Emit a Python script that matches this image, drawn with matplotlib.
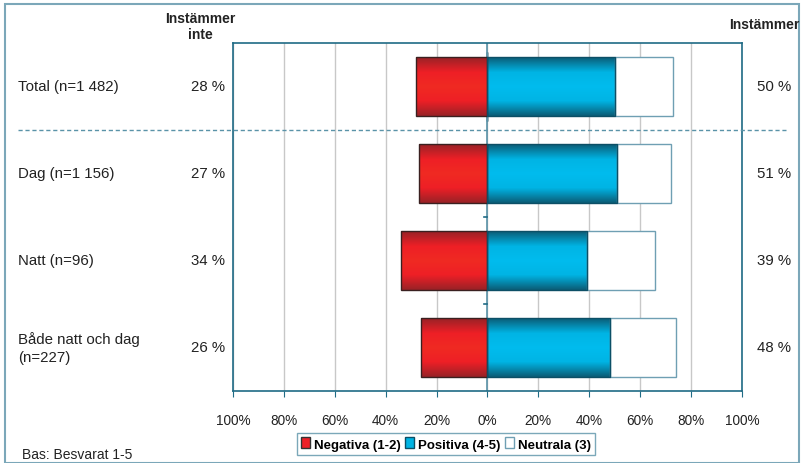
import numpy as np
import matplotlib.pyplot as plt
from matplotlib.colors import LinearSegmentedColormap
from matplotlib.patches import Rectangle

plt.rcParams['font.family'] = ['Liberation Sans', 'DejaVu Sans']

categories = ["Total (n=1 482)", "Dag (n=1 156)", "Natt (n=96)", "Både natt och dag\n(n=227)"]
negativa = [28, 27, 34, 26]
positiva = [50, 51, 39, 48]
neutrala = [23, 21, 27, 26]
left_labels = ["28 %", "27 %", "34 %", "26 %"]
right_labels = ["50 %", "51 %", "39 %", "48 %"]
ticks = [-100, -80, -60, -40, -20, 0, 20, 40, 60, 80, 100]

fig = plt.figure(figsize=(8.02, 4.64), dpi=100)
ax = fig.add_axes([0.2905, 0.1552, 0.6347, 0.75])

# figure border
fig.patches.append(Rectangle((0.006, 0.0), 0.99, 0.99, transform=fig.transFigure,
                             fill=False, edgecolor="#7ba7b9", linewidth=1.5))

y = np.arange(len(categories))
h = 0.67

red_cmap = LinearSegmentedColormap.from_list("r", ["#9a2226", "#ee1f26", "#f02a22", "#ee1f26", "#9a2226"])
blue_cmap = LinearSegmentedColormap.from_list("b", ["#0b5e78", "#00b4e4", "#00bcee", "#00b4e4", "#0b5e78"])
grad = np.linspace(0, 1, 64).reshape(-1, 1)

for i in range(len(categories)):
    n, p, u = negativa[i], positiva[i], neutrala[i]
    ax.imshow(grad, cmap=red_cmap, aspect="auto", extent=(-n, 0, y[i] + h / 2, y[i] - h / 2), zorder=3)
    ax.add_patch(Rectangle((-n, y[i] - h / 2), n, h, fill=False, edgecolor="#3a2020", lw=1, zorder=4))
    ax.imshow(grad, cmap=blue_cmap, aspect="auto", extent=(0, p, y[i] + h / 2, y[i] - h / 2), zorder=3)
    ax.add_patch(Rectangle((0, y[i] - h / 2), p, h, fill=False, edgecolor="#0c4f66", lw=1, zorder=4))
    ax.barh(y[i], u, left=p, height=h, color="white", edgecolor="#6f9fb3", lw=1, zorder=3)

# legend proxies
ax.barh([0], [0], color="#ee1f26", edgecolor="#333333", label="Negativa (1-2)")
ax.barh([0], [0], color="#00b4e4", edgecolor="#0c4f66", label="Positiva (4-5)")
ax.barh([0], [0], color="white", edgecolor="#6f9fb3", label="Neutrala (3)")

ax.set_xlim(-100, 100)
ax.set_ylim(len(categories) - 0.5, -0.5)
ax.set_xticks(ticks)
ax.set_xticklabels([f"{abs(t)}%" for t in ticks], fontsize=9.8, color="#222222")
ax.set_yticks([])
ax.tick_params(axis="x", length=4, color="#1f6b85", pad=12)
ax.grid(axis="x", color="#c8c8c8", lw=1, zorder=0)
ax.set_axisbelow(True)
for s in ax.spines.values():
    s.set_color("#1f6b85")
    s.set_linewidth(1.2)
ax.axvline(0, color="#5a93a8", lw=1.2, zorder=2)
for b in [1.5, 2.5]:
    ax.plot([-1.2, 0], [b, b], color="#1f6b85", lw=1.2, zorder=2, clip_on=False)

# dashed separator
fig.add_artist(plt.Line2D([0.022, 0.98], [1 - 131 / 464, 1 - 131 / 464], transform=fig.transFigure,
                          color="#5a93a8", lw=1, ls=(0, (3, 2))))

for i, cat in enumerate(categories):
    yy = ax.transData.transform((0, y[i]))[1] / fig.dpi / fig.get_figheight()
    fig.text(0.022, yy, cat, ha="left", va="center", fontsize=10.8, color="#222222", linespacing=1.3)
    fig.text(0.281, yy, left_labels[i], ha="right", va="center", fontsize=10.8, color="#222222")
    fig.text(0.944, yy, right_labels[i], ha="left", va="center", fontsize=10.8, color="#222222")

fig.text(0.25, 1 - 27 / 464, "Instämmer\ninte", ha="center", va="center", fontsize=10,
         fontweight="bold", color="#222222", linespacing=1.25)
fig.text(0.997, 1 - 25 / 464, "Instämmer", ha="right", va="center", fontsize=10,
         fontweight="bold", color="#222222")
fig.text(0.028, 1 - 455 / 464, "Bas: Besvarat 1-5", ha="left", va="center", fontsize=10, color="#222222")

leg = fig.legend(loc="center", bbox_to_anchor=(446 / 802, 1 - 445 / 464), ncol=3,
                 prop={"weight": "bold", "size": 9.5}, frameon=True, fancybox=False,
                 handlelength=0.7, handleheight=0.9, handletextpad=0.3, columnspacing=0.3,
                 borderpad=0.35, borderaxespad=0)
leg.get_frame().set_edgecolor("#5a93a8")
leg.get_frame().set_linewidth(1)

fig.savefig("out.png", dpi=100)
